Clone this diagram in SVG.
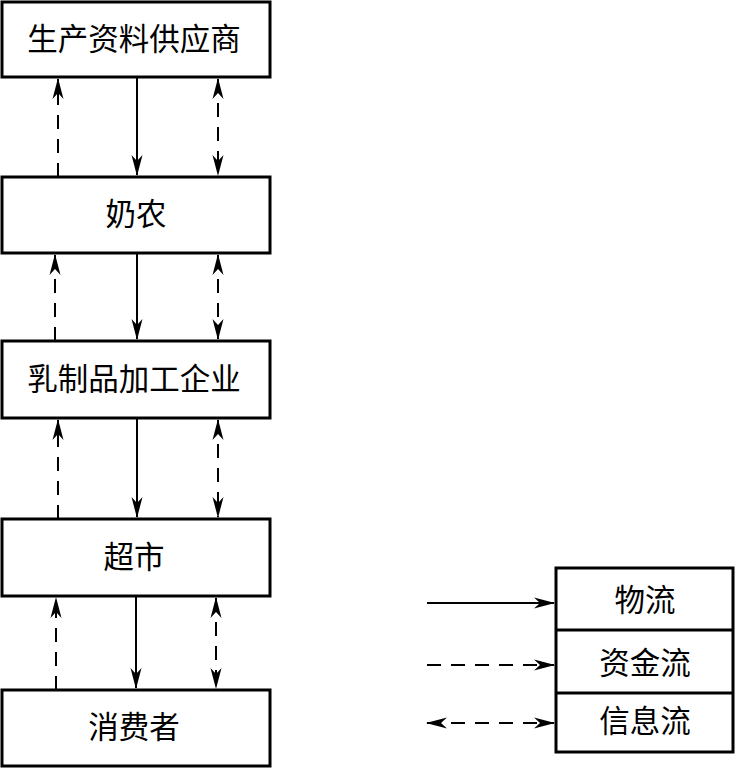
<svg xmlns="http://www.w3.org/2000/svg" width="735" height="769" viewBox="0 0 735 769">
<style>
.box{fill:#fff;stroke:#000;stroke-width:3}
.t{font-family:"Liberation Serif","Noto Sans CJK SC",serif;font-size:30.5px;fill:#000;text-anchor:middle;dominant-baseline:central}
.s{stroke:#000;stroke-width:2;fill:none}
.d{stroke:#000;stroke-width:2;fill:none;stroke-dasharray:14 10}
</style>
<defs>
<marker id="ah" markerUnits="userSpaceOnUse" markerWidth="22" markerHeight="12" refX="20" refY="6" orient="auto-start-reverse" viewBox="0 0 22 12">
<path d="M0,0.5 L21,6 L0,11.5 L6,6 Z" fill="#000"/>
</marker>
</defs>
<rect width="735" height="769" fill="#fff"/>
<g id="connectors">
<line class="d" x1="58" y1="177" x2="58" y2="79" marker-end="url(#ah)"/>
<line class="s" x1="137" y1="77" x2="137" y2="175" marker-end="url(#ah)"/>
<line class="d" x1="218" y1="79" x2="218" y2="175" marker-start="url(#ah)" marker-end="url(#ah)"/>
<line class="d" x1="55" y1="341" x2="55" y2="255" marker-end="url(#ah)"/>
<line class="s" x1="137" y1="253" x2="137" y2="339" marker-end="url(#ah)"/>
<line class="d" x1="218" y1="255" x2="218" y2="339" marker-start="url(#ah)" marker-end="url(#ah)"/>
<line class="d" x1="58" y1="519" x2="58" y2="420" marker-end="url(#ah)"/>
<line class="s" x1="137" y1="418" x2="137" y2="517" marker-end="url(#ah)"/>
<line class="d" x1="218" y1="420" x2="218" y2="517" marker-start="url(#ah)" marker-end="url(#ah)"/>
<line class="d" x1="56" y1="690" x2="56" y2="598" marker-end="url(#ah)"/>
<line class="s" x1="136" y1="596" x2="136" y2="688" marker-end="url(#ah)"/>
<line class="d" x1="216" y1="598" x2="216" y2="688" marker-start="url(#ah)" marker-end="url(#ah)"/>
<line class="s" x1="427" y1="603" x2="554" y2="603" marker-end="url(#ah)"/>
<line class="d" x1="427" y1="665" x2="554" y2="665" marker-end="url(#ah)"/>
<line class="d" x1="427" y1="723" x2="554" y2="723" marker-start="url(#ah)" marker-end="url(#ah)"/>
</g>
<g id="n1"><rect class="box" x="2" y="2" width="268" height="75"/><text class="t" x="134" y="40">生产资料供应商</text></g>
<g id="n2"><rect class="box" x="2" y="177" width="268" height="76"/><text class="t" x="136" y="215">奶农</text></g>
<g id="n3"><rect class="box" x="2" y="341" width="268" height="77"/><text class="t" x="134" y="380">乳制品加工企业</text></g>
<g id="n4"><rect class="box" x="2" y="519" width="268" height="77"/><text class="t" x="134" y="558">超市</text></g>
<g id="n5"><rect class="box" x="2" y="690" width="268" height="76"/><text class="t" x="134" y="728">消费者</text></g>
<g id="legend">
<rect class="box" x="556" y="568" width="177" height="184"/>
<line x1="556" y1="630" x2="733" y2="630" stroke="#000" stroke-width="3"/>
<line x1="556" y1="693" x2="733" y2="693" stroke="#000" stroke-width="3"/>
<text class="t" x="645" y="601">物流</text>
<text class="t" x="645" y="664">资金流</text>
<text class="t" x="645" y="722">信息流</text>
</g>
</svg>
